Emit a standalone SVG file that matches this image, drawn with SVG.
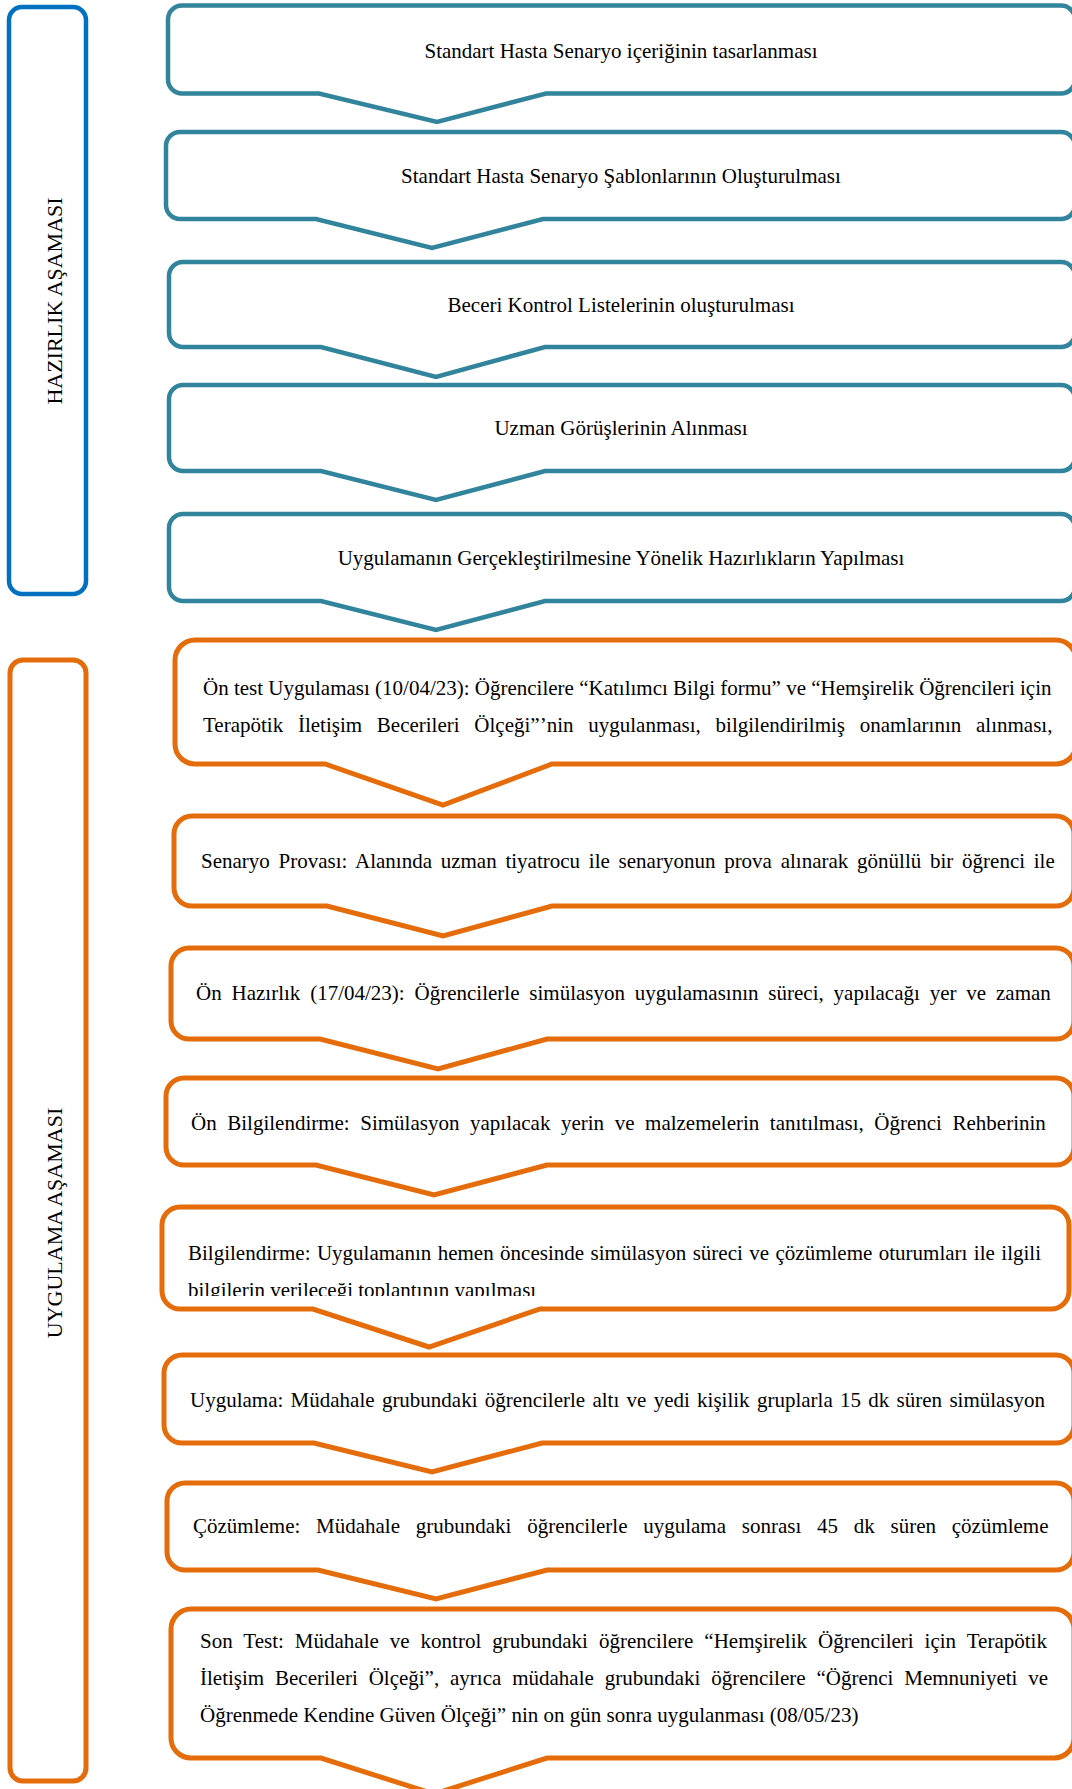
<svg xmlns="http://www.w3.org/2000/svg" width="1072" height="1789" viewBox="0 0 1072 1789">
<style>
  .t { font-family: "Liberation Serif", "Times New Roman", serif; font-size: 21px; fill: #000; }
  .c { text-anchor: middle; }
  .lab { font-size: 22px; }
  .teal { fill: #fff; stroke: #31849B; stroke-width: 4.5; stroke-linejoin: miter; }
  .org { fill: #fff; stroke: #E46C0A; stroke-width: 5; stroke-linejoin: miter; }
  .blue { fill: none; stroke: #0070C0; stroke-width: 4.5; }
  .orgl { fill: none; stroke: #E46C0A; stroke-width: 5; }
</style>
<defs>
  <clipPath id="clip10"><rect x="150" y="1200" width="922" height="96"/></clipPath>
</defs>
<rect width="1072" height="1789" fill="#fff"/>

<g id="stage-hazirlik">
  <rect class="blue" x="9" y="7" width="77" height="587" rx="13"/>
  <text class="t c lab" transform="translate(62,301) rotate(-90)">HAZIRLIK AŞAMASI</text>
</g>
<g id="stage-uygulama">
  <rect class="orgl" x="10" y="660" width="76" height="1121" rx="13"/>
  <text class="t c lab" transform="translate(62,1223) rotate(-90)">UYGULAMA AŞAMASI</text>
</g>

<g id="n1">
  <path class="teal" d="M182,5.5 H1061 A14,14 0 0 1 1075,19.5 V79.5 A14,14 0 0 1 1061,93.5 H546 L437,122 L319,93.5 H182 A14,14 0 0 1 168,79.5 V19.5 A14,14 0 0 1 182,5.5 Z"/>
  <text class="t c" x="621" y="58">Standart Hasta Senaryo içeriğinin tasarlanması</text>
</g>
<g id="n2">
  <path class="teal" d="M180,132 H1061 A14,14 0 0 1 1075,146 V205 A14,14 0 0 1 1061,219 H543 L432,248 L316,219 H180 A14,14 0 0 1 166,205 V146 A14,14 0 0 1 180,132 Z"/>
  <text class="t c" x="621" y="183">Standart Hasta Senaryo Şablonlarının Oluşturulması</text>
</g>
<g id="n3">
  <path class="teal" d="M183,262 H1061 A14,14 0 0 1 1075,276 V333 A14,14 0 0 1 1061,347 H545 L436,377 L321,347 H183 A14,14 0 0 1 169,333 V276 A14,14 0 0 1 183,262 Z"/>
  <text class="t c" x="621" y="312">Beceri Kontrol Listelerinin oluşturulması</text>
</g>
<g id="n4">
  <path class="teal" d="M183,385 H1061 A14,14 0 0 1 1075,399 V457 A14,14 0 0 1 1061,471 H545 L436,500 L321,471 H183 A14,14 0 0 1 169,457 V399 A14,14 0 0 1 183,385 Z"/>
  <text class="t c" x="621" y="435">Uzman Görüşlerinin Alınması</text>
</g>
<g id="n5">
  <path class="teal" d="M183,514 H1061 A14,14 0 0 1 1075,528 V587 A14,14 0 0 1 1061,601 H545 L436,630 L321,601 H183 A14,14 0 0 1 169,587 V528 A14,14 0 0 1 183,514 Z"/>
  <text class="t c" x="621" y="565">Uygulamanın Gerçekleştirilmesine Yönelik Hazırlıkların Yapılması</text>
</g>

<g id="n6">
  <path class="org" d="M195,640 H1056 A20,20 0 0 1 1076,660 V744 A20,20 0 0 1 1056,764 H552 L443,805 L325,764 H195 A20,20 0 0 1 175,744 V660 A20,20 0 0 1 195,640 Z"/>
  <text class="t" x="203" y="695">Ön test Uygulaması (10/04/23): Öğrencilere “Katılımcı Bilgi formu” ve “Hemşirelik Öğrencileri için</text>
  <text class="t" x="203" y="732" word-spacing="9.5">Terapötik İletişim Becerileri Ölçeği”’nin uygulanması, bilgilendirilmiş onamlarının alınması,</text>
</g>
<g id="n7">
  <path class="org" d="M192,816 H1056 A18,18 0 0 1 1074,834 V888 A18,18 0 0 1 1056,906 H552 L443,936 L327,906 H192 A18,18 0 0 1 174,888 V834 A18,18 0 0 1 192,816 Z"/>
  <text class="t" x="201" y="868" word-spacing="3.5">Senaryo Provası: Alanında uzman tiyatrocu ile senaryonun prova alınarak gönüllü bir öğrenci ile</text>
</g>
<g id="n8">
  <path class="org" d="M189,948 H1056 A18,18 0 0 1 1074,966 V1021 A18,18 0 0 1 1056,1039 H547 L438,1069 L320,1039 H189 A18,18 0 0 1 171,1021 V966 A18,18 0 0 1 189,948 Z"/>
  <text class="t" x="196" y="1000" word-spacing="4.6">Ön Hazırlık (17/04/23): Öğrencilerle simülasyon uygulamasının süreci, yapılacağı yer ve zaman</text>
</g>
<g id="n9">
  <path class="org" d="M184,1078 H1056 A18,18 0 0 1 1074,1096 V1147 A18,18 0 0 1 1056,1165 H547 L434,1195 L316,1165 H184 A18,18 0 0 1 166,1147 V1096 A18,18 0 0 1 184,1078 Z"/>
  <text class="t" x="191" y="1130" word-spacing="5.3">Ön Bilgilendirme: Simülasyon yapılacak yerin ve malzemelerin tanıtılması, Öğrenci Rehberinin</text>
</g>
<g id="n10">
  <path class="org" d="M180,1207 H1051 A18,18 0 0 1 1069,1225 V1291 A18,18 0 0 1 1051,1309 H540 L429,1347 L313,1309 H180 A18,18 0 0 1 162,1291 V1225 A18,18 0 0 1 180,1207 Z"/>
  <text class="t" x="188" y="1260" word-spacing="1.2">Bilgilendirme: Uygulamanın hemen öncesinde simülasyon süreci ve çözümleme oturumları ile ilgili</text>
  <text class="t" x="188" y="1297" clip-path="url(#clip10)">bilgilerin verileceği toplantının yapılması</text>
</g>
<g id="n11">
  <path class="org" d="M182,1355 H1056 A18,18 0 0 1 1074,1373 V1425 A18,18 0 0 1 1056,1443 H542 L432,1472 L314,1443 H182 A18,18 0 0 1 164,1425 V1373 A18,18 0 0 1 182,1355 Z"/>
  <text class="t" x="190" y="1407" word-spacing="2.05">Uygulama: Müdahale grubundaki öğrencilerle altı ve yedi kişilik gruplarla 15 dk süren simülasyon</text>
</g>
<g id="n12">
  <path class="org" d="M185,1483 H1056 A18,18 0 0 1 1074,1501 V1552 A18,18 0 0 1 1056,1570 H547 L436,1599 L318,1570 H185 A18,18 0 0 1 167,1552 V1501 A18,18 0 0 1 185,1483 Z"/>
  <text class="t" x="193" y="1533" word-spacing="10.5">Çözümleme: Müdahale grubundaki öğrencilerle uygulama sonrası 45 dk süren çözümleme</text>
</g>
<g id="n13">
  <path class="org" d="M191,1609 H1054 A20,20 0 0 1 1074,1629 V1738 A20,20 0 0 1 1054,1758 H547 L434,1794 L321,1758 H191 A20,20 0 0 1 171,1738 V1629 A20,20 0 0 1 191,1609 Z"/>
  <text class="t" x="200" y="1648" word-spacing="5.75">Son Test: Müdahale ve kontrol grubundaki öğrencilere “Hemşirelik Öğrencileri için Terapötik</text>
  <text class="t" x="200" y="1685" word-spacing="5.6">İletişim Becerileri Ölçeği”, ayrıca müdahale grubundaki öğrencilere “Öğrenci Memnuniyeti ve</text>
  <text class="t" x="200" y="1722">Öğrenmede Kendine Güven Ölçeği” nin on gün sonra uygulanması (08/05/23)</text>
</g>
</svg>
